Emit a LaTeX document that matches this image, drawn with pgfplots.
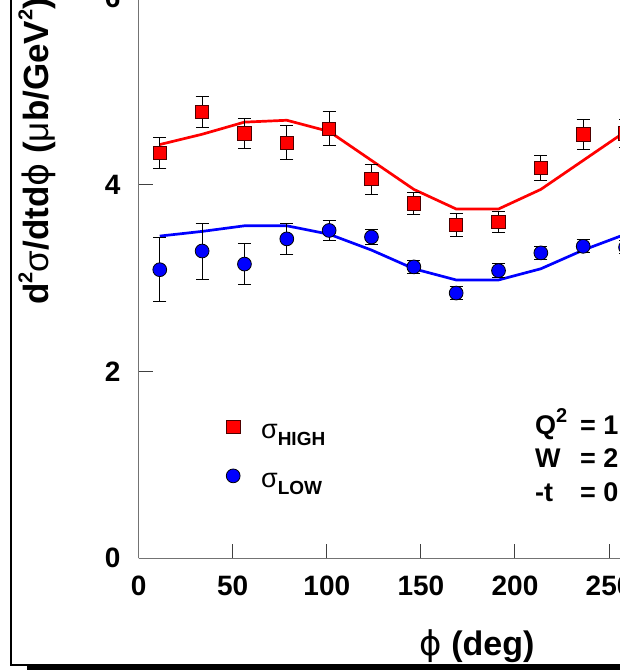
\documentclass[border=0pt]{standalone}
\usepackage{fontspec}
\setmainfont{Liberation Sans}
\newfontfamily\djs{DejaVu Sans}
\usepackage{pgfplots}
\pgfplotsset{compat=1.18}
\newcommand\sups[1]{\raisebox{0.45em}{\fontsize{20}{20}\selectfont\bfseries #1}}
\newcommand\subs[1]{\raisebox{-7pt}{\fontsize{19}{19}\selectfont\bfseries #1}}
\begin{document}
\begin{tikzpicture}
\useasboundingbox (0,0) rectangle (620pt,670pt);
\clip (0,0) rectangle (620pt,670pt);
\begin{axis}[
  at={(138.6pt,111.7pt)}, anchor=south west,
  scale only axis, width=677.5pt, height=560.4pt,
  xmin=0, xmax=360, ymin=0, ymax=6,
  axis x line*=bottom, axis y line*=left,
  xtick={0,50,...,350}, ytick={0,2,4,6},
  minor tick num=0,
  tick align=inside, major tick length=14pt,
  tick style={black!75, line width=1pt},
  axis line style={black!55, line width=1.5pt},
  /pgf/number format/assume math mode=true,
  tick label style={font=\fontsize{28}{28}\selectfont\bfseries},
  xticklabel style={inner sep=0pt, anchor=north, yshift=-17pt},
  yticklabel style={inner sep=0pt, anchor=east, xshift=-18pt},
  legend style={draw=none, fill=none, inner sep=0pt,
    at={(axis cs:46.5,1.48)}, anchor=north west,
    nodes={inner sep=0pt, text height=15pt, text depth=9pt},
    /tikz/every odd column/.append style={column sep=21pt},
    row sep=21pt},
  legend cell align=left,
  legend image code/.code={\draw[#1] plot coordinates {(7pt,9pt)};},
]
% model curves
\addplot[red, line width=2.7pt, forget plot] coordinates {
(11.25,4.43)(33.75,4.54)(56.25,4.67)(78.75,4.69)(101.25,4.57)(123.75,4.26)
(146.25,3.95)(168.75,3.74)(191.25,3.74)(213.75,3.95)(236.25,4.26)(258.75,4.57)
(281.25,4.69)(303.75,4.67)(326.25,4.54)(348.75,4.43)};
\addplot[blue, line width=2.7pt, forget plot] coordinates {
(11.25,3.45)(33.75,3.50)(56.25,3.56)(78.75,3.56)(101.25,3.47)(123.75,3.30)
(146.25,3.10)(168.75,2.98)(191.25,2.98)(213.75,3.10)(236.25,3.30)(258.75,3.47)
(281.25,3.56)(303.75,3.56)(326.25,3.50)(348.75,3.45)};
% data
\addplot[only marks, mark=square*, mark size=6.7pt,
  mark options={fill=red, draw=black!70!red, line width=0.8pt},
  error bars/.cd, y dir=both, y explicit,
  error bar style={black, line width=0.9pt},
  error mark options={black, line width=0.9pt, mark size=6.5pt, rotate=90}]
  coordinates {
(11.25,4.34) +- (0,0.17)
(33.75,4.78) +- (0,0.17)
(56.25,4.55) +- (0,0.16)
(78.75,4.45) +- (0,0.18)
(101.25,4.60) +- (0,0.18)
(123.75,4.06) +- (0,0.16)
(146.25,3.80) +- (0,0.12)
(168.75,3.57) +- (0,0.12)
(191.25,3.60) +- (0,0.11)
(213.75,4.18) +- (0,0.13)
(236.25,4.54) +- (0,0.16)
(258.75,4.55) +- (0,0.15)};
\addlegendentry{{\fontsize{27}{27}\selectfont σ}\subs{HIGH}}
\addplot[only marks, mark=*, mark size=6.9pt,
  mark options={fill=blue, draw=black, line width=0.8pt},
  error bars/.cd, y dir=both, y explicit,
  error bar style={black, line width=0.9pt},
  error mark options={black, line width=0.9pt, mark size=6.5pt, rotate=90}]
  coordinates {
(11.25,3.09) +- (0,0.34)
(33.75,3.29) +- (0,0.30)
(56.25,3.15) +- (0,0.22)
(78.75,3.42) +- (0,0.17)
(101.25,3.51) +- (0,0.11)
(123.75,3.44) +- (0,0.08)
(146.25,3.12) +- (0,0.07)
(168.75,2.84) +- (0,0.07)
(191.25,3.08) +- (0,0.077)
(213.75,3.27) +- (0,0.07)
(236.25,3.34) +- (0,0.07)
(258.75,3.33) +- (0,0.07)};
\addlegendentry{{\fontsize{27}{27}\selectfont σ}\subs{LOW}}
\end{axis}
% axis titles
\node[rotate=90, anchor=base west, inner sep=0pt] at (48pt,365pt)
  {\fontsize{35}{35}\selectfont\bfseries d\sups{2}{\mdseries σ}/dtd{\djs\mdseries ϕ} ({\mdseries μ}b/GeV\sups{2})};
\node[anchor=base, inner sep=0pt] at (477pt,15pt)
  {\fontsize{34}{34}\selectfont\bfseries {\djs\mdseries ϕ} (deg)};
% kinematics text
\begin{scope}[every node/.style={anchor=base west, inner sep=0pt, font=\fontsize{27}{27}\selectfont\bfseries}]
\node at (535pt,235pt) {Q\sups{2}};
\node at (580pt,235pt) {= 1.60 GeV\sups{2}};
\node at (535pt,202pt) {W};
\node at (580pt,202pt) {= 2.22 GeV};
\node at (535pt,168pt) {-t};
\node at (580pt,168pt) {= 0.13 GeV\sups{2}};
\end{scope}
% canvas frame
\draw[black, line width=2pt] (11pt,670pt) -- (11pt,5pt) -- (620pt,5pt);
\fill[black] (27pt,0pt) rectangle (620pt,4.5pt);
\end{tikzpicture}
\end{document}
